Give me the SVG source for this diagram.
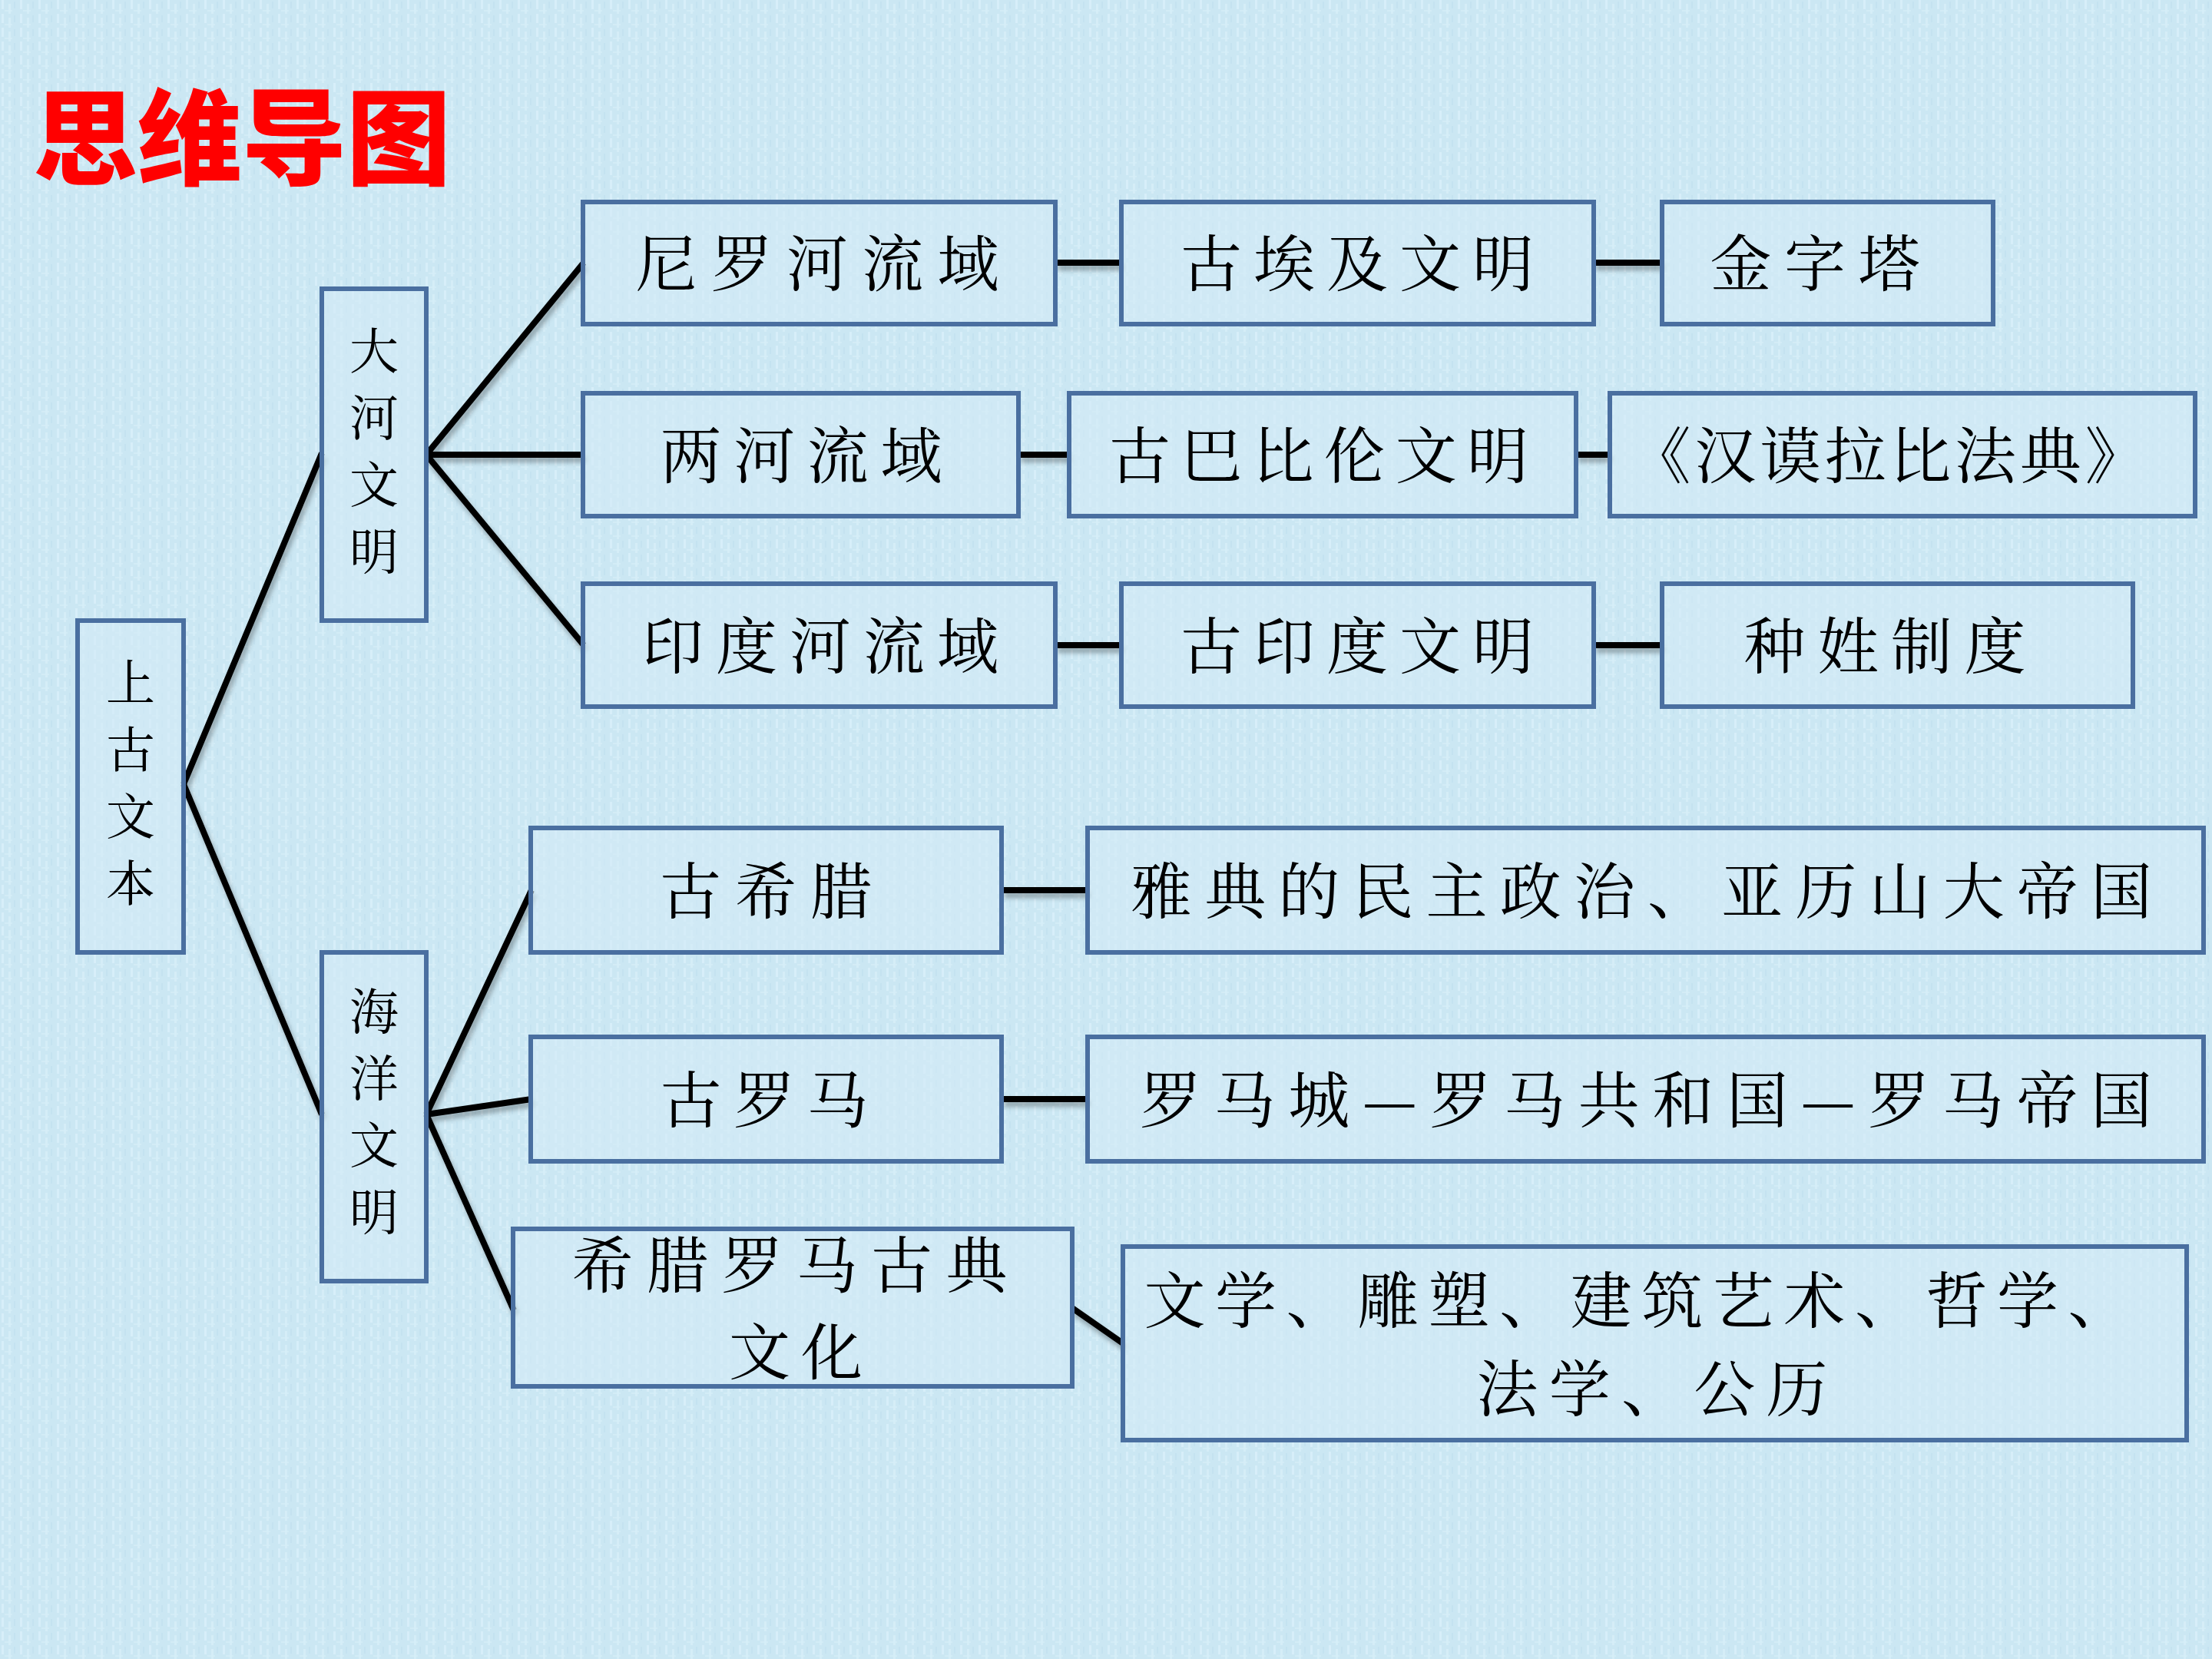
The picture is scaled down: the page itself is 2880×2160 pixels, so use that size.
<svg xmlns="http://www.w3.org/2000/svg" width="2880" height="2160" viewBox="0 0 2880 2160">
<defs>
<pattern id="tex" width="24" height="18" patternUnits="userSpaceOnUse">
<rect width="24" height="18" fill="#cbe7f3"/>
<rect x="2" y="0" width="3" height="12" fill="#d9f0fa" opacity="0.8"/>
<rect x="11" y="5" width="3" height="13" fill="#d9f0fa" opacity="0.7"/>
<rect x="18" y="2" width="2" height="9" fill="#bfdfee" opacity="0.6"/>
<rect x="6" y="13" width="10" height="2" fill="#d6eef9" opacity="0.7"/>
</pattern>
<filter id="sh" x="-10%" y="-10%" width="130%" height="140%">
<feDropShadow dx="3" dy="6" stdDeviation="3" flood-color="#000" flood-opacity="0.3"/>
</filter>
</defs>
<style>
.box{fill:#d3ebf6;fill-opacity:0.6;stroke:#4a6fa0;stroke-width:6}
.t{font-family:"Noto Serif CJK SC","Noto Sans CJK SC",serif;font-size:80px;fill:#000;text-anchor:middle}
.v{font-family:"Noto Serif CJK SC","Noto Sans CJK SC",serif;font-size:64px;fill:#000;text-anchor:middle;writing-mode:vertical-rl}
.c{stroke:#000;stroke-width:8;fill:none;stroke-linecap:butt}
</style>
<rect width="2880" height="2160" fill="url(#tex)"/>
<text x="315" y="230" font-family="Noto Sans CJK SC, sans-serif" font-weight="900" font-size="135" fill="#ff0000" text-anchor="middle" textLength="544" lengthAdjust="spacingAndGlyphs">思维导图</text>

<g id="connectors" filter="url(#sh)">
<line class="c" x1="239" y1="1021" x2="419" y2="590"/>
<line class="c" x1="239" y1="1021" x2="419" y2="1451"/>
<line class="c" x1="555" y1="592" x2="760" y2="342"/>
<line class="c" x1="555" y1="592" x2="760" y2="592"/>
<line class="c" x1="555" y1="592" x2="760" y2="840"/>
<line class="c" x1="555" y1="1451" x2="692" y2="1159"/>
<line class="c" x1="555" y1="1451" x2="692" y2="1431"/>
<line class="c" x1="555" y1="1451" x2="669" y2="1706"/>
<line class="c" x1="1374" y1="342" x2="1460" y2="342"/>
<line class="c" x1="2075" y1="342" x2="2164" y2="342"/>
<line class="c" x1="1326" y1="592" x2="1392" y2="592"/>
<line class="c" x1="2052" y1="592" x2="2096" y2="592"/>
<line class="c" x1="1374" y1="840" x2="1460" y2="840"/>
<line class="c" x1="2075" y1="840" x2="2164" y2="840"/>
<line class="c" x1="1304" y1="1159" x2="1416" y2="1159"/>
<line class="c" x1="1304" y1="1431" x2="1416" y2="1431"/>
<line class="c" x1="1396" y1="1703" x2="1462" y2="1749"/>
</g>

<g id="n-root"><rect class="box" x="101" y="808" width="138" height="432"/>
<text class="v" x="170" y="1018" textLength="325">上古文本</text></g>
<g id="n-dahe"><rect class="box" x="419" y="376" width="136" height="432"/>
<text class="v" x="487" y="586" textLength="325">大河文明</text></g>
<g id="n-haiyang"><rect class="box" x="419" y="1240" width="136" height="428"/>
<text class="v" x="487" y="1446" textLength="325">海洋文明</text></g>

<g id="n-niluo"><rect class="box" x="759" y="263" width="615" height="159"/><text class="t" x="1064" y="372" textLength="473">尼罗河流域</text></g>
<g id="n-aiji"><rect class="box" x="1460" y="263" width="615" height="159"/><text class="t" x="1767" y="372" textLength="460">古埃及文明</text></g>
<g id="n-jinzita"><rect class="box" x="2164" y="263" width="431" height="159"/><text class="t" x="2363" y="372" textLength="273">金字塔</text></g>

<g id="n-lianghe"><rect class="box" x="759" y="512" width="567" height="160"/><text class="t" x="1043" y="622" textLength="367">两河流域</text></g>
<g id="n-babilun"><rect class="box" x="1392" y="512" width="660" height="160"/><text class="t" x="1717" y="622" textLength="546">古巴比伦文明</text></g>
<g id="n-fadian"><rect class="box" x="2096" y="512" width="762" height="160"/><text class="t" x="2458" y="622" textLength="673">《汉谟拉比法典》</text></g>

<g id="n-yinduhe"><rect class="box" x="759" y="760" width="615" height="160"/><text class="t" x="1068" y="870" textLength="464">印度河流域</text></g>
<g id="n-yindu"><rect class="box" x="1460" y="760" width="615" height="160"/><text class="t" x="1767" y="870" textLength="460">古印度文明</text></g>
<g id="n-zhongxing"><rect class="box" x="2164" y="760" width="613" height="160"/><text class="t" x="2454" y="870" textLength="367">种姓制度</text></g>

<g id="n-xila"><rect class="box" x="691" y="1078" width="613" height="162"/><text class="t" x="997" y="1189" textLength="276">古希腊</text></g>
<g id="n-yadian"><rect class="box" x="1416" y="1078" width="1453" height="162"/><text class="t" x="2137" y="1189" textLength="1330">雅典的民主政治、亚历山大帝国</text></g>

<g id="n-luoma"><rect class="box" x="691" y="1350" width="613" height="162"/><text class="t" x="995" y="1461" textLength="271">古罗马</text></g>
<g id="n-luomacheng"><rect class="box" x="1416" y="1350" width="1453" height="162"/><text class="t" x="2143" y="1461" textLength="1318">罗马城—罗马共和国—罗马帝国</text></g>

<g id="n-gudian"><rect class="box" x="668" y="1600" width="728" height="205"/>
<text class="t" x="1028" y="1676" textLength="567">希腊罗马古典</text>
<text class="t" x="1036" y="1789" textLength="174">文化</text></g>
<g id="n-wenxue"><rect class="box" x="1462" y="1623" width="1385" height="252"/>
<text class="t" x="2131" y="1722" textLength="1283">文学、雕塑、建筑艺术、哲学、</text>
<text class="t" x="2151" y="1837" textLength="457">法学、公历</text></g>
</svg>
